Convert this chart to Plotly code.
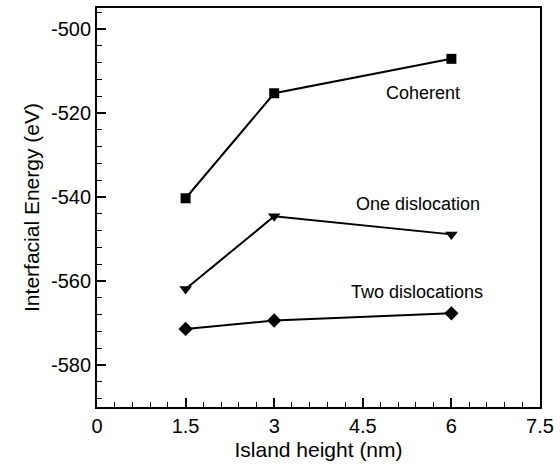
import plotly.graph_objects as go

island_height = [1.5, 3, 6]
coherent = [-540.3, -515.3, -507.1]
one_dislocation = [-561.9, -544.6, -548.9]
two_dislocations = [-571.4, -569.4, -567.7]

series_names = ["Coherent", "One dislocation", "Two dislocations"]
label_x = [5.52, 5.43, 5.42]
label_y = [-515.2, -541.7, -562.5]

x_ticks = [0, 1.5, 3, 4.5, 6, 7.5]
x_tick_text = ["0", "1.5", "3", "4.5", "6", "7.5"]
y_ticks = [-580, -560, -540, -520, -500]
y_tick_text = ["-580", "-560", "-540", "-520", "-500"]

FONT = "Arial, Liberation Sans, sans-serif"

fig = go.Figure()
for ys, sym, size in [(coherent, "square", 10), (one_dislocation, "triangle-down", 11), (two_dislocations, "diamond", 11)]:
    fig.add_trace(go.Scatter(x=island_height, y=ys, mode="lines+markers",
                             line=dict(color="black", width=2),
                             marker=dict(symbol=sym, size=size, color="black"),
                             showlegend=False))

for name, lx, ly in zip(series_names, label_x, label_y):
    fig.add_annotation(x=lx, y=ly, text=name, showarrow=False,
                       font=dict(family=FONT, size=18, color="black"))

axis_common = dict(showline=True, linecolor="black", linewidth=2, mirror=True,
                   ticks="inside", ticklen=9, tickwidth=2, tickcolor="black",
                   showgrid=False, zeroline=False,
                   tickfont=dict(family=FONT, size=20, color="black"))

fig.update_xaxes(range=[0, 7.5], tickvals=x_ticks, ticktext=x_tick_text,
                 title=dict(text="Island height (nm)", font=dict(family=FONT, size=21, color="black"), standoff=6),
                 minor=dict(ticks="inside", ticklen=5, tickwidth=1, tickcolor="black", dtick=0.3, tick0=0),
                 **axis_common)
fig.update_yaxes(range=[-590, -495], tickvals=y_ticks, ticktext=y_tick_text,
                 title=dict(text="Interfacial Energy (eV)", font=dict(family=FONT, size=21, color="black"), standoff=6),
                 minor=dict(ticks="inside", ticklen=5, tickwidth=1, tickcolor="black", dtick=4, tick0=-500),
                 **axis_common)

fig.update_layout(width=560, height=465, margin=dict(l=97, r=20, t=6, b=58),
                  paper_bgcolor="white", plot_bgcolor="white")

fig.write_html("out.html", config={"displayModeBar": False},
               post_script="document.body.style.margin='0px';")
